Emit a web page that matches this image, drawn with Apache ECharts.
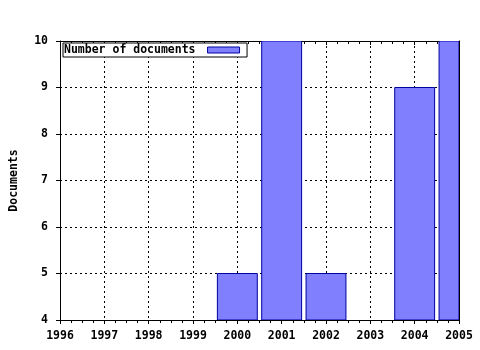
<!DOCTYPE html>
<html>
<head>
<meta charset="utf-8">
<script src="https://cdn.jsdelivr.net/npm/echarts@6/dist/echarts.min.js"></script>
<style>html,body{margin:0;padding:0;background:#fff}#c{width:480px;height:350px}</style>
</head>
<body>
<div id="c"></div>
<script>
var years = [2000, 2001, 2002, 2004, 2005];
var docs = [5, 10, 5, 9, 10];
var seriesName = 'Number of documents';
var yTitle = 'Documents';
var xMin = 1996, xMax = 2005, yMin = 4, yMax = 10;
var barFrac = 0.9;

var font = '"DejaVu Sans Mono", monospace';
var chart = echarts.init(document.getElementById('c'), null, {renderer: 'canvas'});
var lineStyle = {color: '#000', width: 1};
var gridDotted = {show: true, lineStyle: {color: '#000', type: [2, 3], width: 1}};
var label = {fontFamily: font, fontWeight: 'bold', fontSize: 11.5, color: '#000'};
var barStyle = {color: '#8080ff', borderColor: '#0000a0', borderWidth: 1};

chart.setOption({
  animation: false,
  grid: {left: 57, right: 21, top: 41, bottom: 30, containLabel: false},
  legend: {
    show: true, left: 63, top: 43, orient: 'horizontal', align: 'right',
    borderColor: '#000', borderWidth: 1, padding: [1, 7, 1, 1], borderRadius: 0,
    backgroundColor: '#fff',
    itemWidth: 32, itemHeight: 6, itemGap: 0,
    textStyle: {fontFamily: font, fontWeight: 'bold', fontSize: 11.5, color: '#000', padding: [0, 7, 0, 0]},
    data: [{name: seriesName, icon: 'rect', itemStyle: barStyle}]
  },
  xAxis: [{
    type: 'value', min: xMin, max: xMax, interval: 1, position: 'bottom',
    axisLine: {show: true, lineStyle: lineStyle},
    axisTick: {show: true, length: 4, lineStyle: lineStyle},
    minorTick: {show: true, splitNumber: 4, length: 3, lineStyle: lineStyle},
    splitLine: gridDotted,
    axisLabel: Object.assign({margin: 10, formatter: function (v) { return String(Math.round(v)); }}, label)
  }, {
    type: 'value', min: xMin, max: xMax, interval: 1, position: 'top',
    axisLine: {show: true, lineStyle: lineStyle},
    axisTick: {show: true, inside: true, length: 4, lineStyle: lineStyle},
    minorTick: {show: true, splitNumber: 4, length: 3, lineStyle: lineStyle},
    splitLine: {show: false}, axisLabel: {show: false}
  }],
  yAxis: [{
    type: 'value', min: yMin, max: yMax, interval: 1, position: 'left',
    name: yTitle, nameLocation: 'middle', nameGap: 40, nameRotate: 90,
    nameTextStyle: label,
    axisLine: {show: true, lineStyle: lineStyle},
    axisTick: {show: true, length: 4, lineStyle: lineStyle},
    splitLine: gridDotted,
    axisLabel: Object.assign({margin: 12}, label)
  }, {
    type: 'value', min: yMin, max: yMax, interval: 1, position: 'right',
    axisLine: {show: true, lineStyle: lineStyle},
    axisTick: {show: true, inside: true, length: 4, lineStyle: lineStyle},
    splitLine: {show: false}, axisLabel: {show: false}
  }],
  series: [{
    name: seriesName, type: 'custom', xAxisIndex: 0, yAxisIndex: 0, clip: true, z: 1,
    itemStyle: barStyle,
    encode: {x: 0, y: 1},
    renderItem: function (params, api) {
      var x = api.value(0), v = api.value(1);
      var top = api.coord([x, v]);
      var base = api.coord([x, yMin]);
      var w = api.size([1, 0])[0] * barFrac;
      var rect = echarts.graphic.clipRectByRect(
        {x: top[0] - w / 2, y: top[1], width: w, height: base[1] - top[1]},
        {x: params.coordSys.x, y: params.coordSys.y, width: params.coordSys.width, height: params.coordSys.height}
      );
      if (!rect) return null;
      return {type: 'rect', shape: rect, style: api.style()};
    },
    data: years.map(function (y, i) { return [y, docs[i]]; })
  }]
});
</script>
</body>
</html>
